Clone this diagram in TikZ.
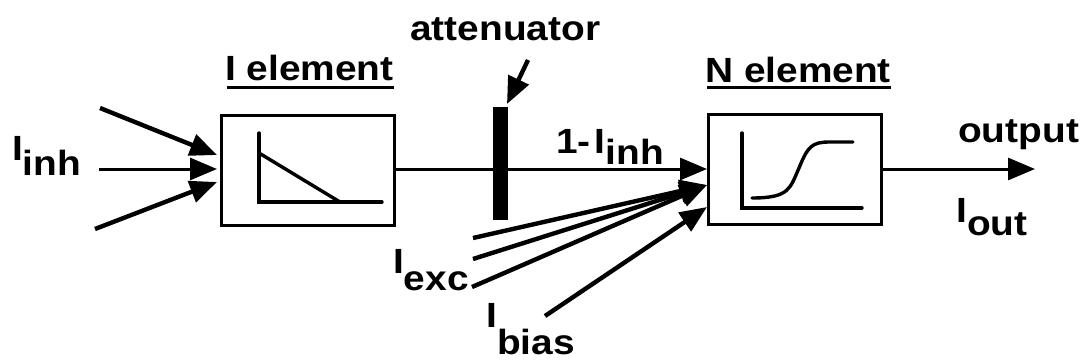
\documentclass[tikz,border=0pt]{standalone}
\usepackage{fontspec}
\setmainfont{Liberation Sans}[FakeStretch=1.11]
\usetikzlibrary{arrows.meta,calc}

\newcommand\lowsub[2][15pt]{\raisebox{-#1}{#2}}

\tikzset{
  lbl/.style={inner sep=0pt, anchor=base west, font=\fontsize{35}{40}\selectfont\bfseries},
  elembox/.style={draw, line width=3pt, minimum width=173pt, minimum height=110pt, inner sep=0pt},
  sig/.style={line width=4.4pt, -{Triangle[length=27pt,width=22pt]}},
  wire/.style={line width=3pt, -{Triangle[length=27pt,width=22pt]}},
  curveline/.style={line width=3.4pt, line cap=round},
  uline/.style={line width=3pt},
  attbar/.style={fill=black, minimum width=15pt, minimum height=113pt, inner sep=0pt},
}

\begin{document}
\begin{tikzpicture}[x=1pt, y=-1pt]
\useasboundingbox (0,0) rectangle (1084,362);

% processing elements
\node[elembox] (ibox) at (308,170) {};
\node[elembox] (nbox) at (795,169) {};

% attenuator bar
\node[attbar] (att) at (500.5,163.5) {};

% titles
\node[lbl] (ilab) at (225,80) {I element};
\draw[uline] ($(ilab.base west)+(2,7)$) -- ($(ilab.base east)+(0,7)$);
\node[lbl] (nlab) at (705,82) {N element};
\draw[uline] ($(nlab.base west)+(2,5)$) -- ($(nlab.base east)+(0,5)$);
\node[lbl] (attlab) at (410,40) {attenuator};

% signal labels
\node[lbl] (inh) at (12,160) {I\lowsub[15pt]{inh}};
\node[lbl] (one) at (556,153) {1-\kern4pt I\lowsub[11pt]{inh}};
\node[lbl] (outlab) at (958,142) {output};
\node[lbl] (iout) at (956,222) {I\lowsub[13pt]{out}};
\node[lbl] (iexc) at (393,273) {I\lowsub[17pt]{exc}};
\node[lbl] (ibias) at (486,327) {I\lowsub[27pt]{bias}};

% free ends of the connectors
\coordinate (in1) at (100,108);
\coordinate (in2) at (99,169);
\coordinate (in3) at (95,229);
\coordinate (t1) at (217,155);
\coordinate (t2) at (217,169);
\coordinate (t3) at (217,182);
\coordinate (attfrom) at (528,60);
\coordinate (atttip) at (507,104);
\coordinate (e1) at (473,238);
\coordinate (e2) at (473,259);
\coordinate (e3) at (472,287);
\coordinate (etip) at (707,185);
\coordinate (bfrom) at (545,316);
\coordinate (btip) at (707,207);
\coordinate (outtip) at (1035,169);

% inhibitory inputs
\draw[sig] (in1) -- (t1);
\draw[wire] (in2) -- (t2);
\draw[sig] (in3) -- (t3);

% I element to N element through the attenuator
\draw[wire] (ibox.east |- 0,169) -- (nbox.west);
\node[attbar] at (att) {};
\draw[sig] (attfrom) -- (atttip);

% excitatory and bias inputs
\draw[sig] (e1) -- (etip);
\draw[sig] (e2) -- (etip);
\draw[sig] (e3) -- (etip);
\draw[sig] (bfrom) -- (btip);

% output
\draw[wire] (nbox.east) -- (outtip);

% transfer curve of the I element
\draw[curveline] (259,133) -- (259,202) -- (382,202);
\draw[curveline] (259,153) -- (340,202);

% transfer curve of the N element
\draw[curveline] (742,133) -- (742,208) -- (862,208);
\draw[curveline] (752,198) .. controls (790,198) and (790,188) .. (799,168)
  .. controls (808,146) and (812,142) .. (830,142) -- (853,142);
\end{tikzpicture}
\end{document}
